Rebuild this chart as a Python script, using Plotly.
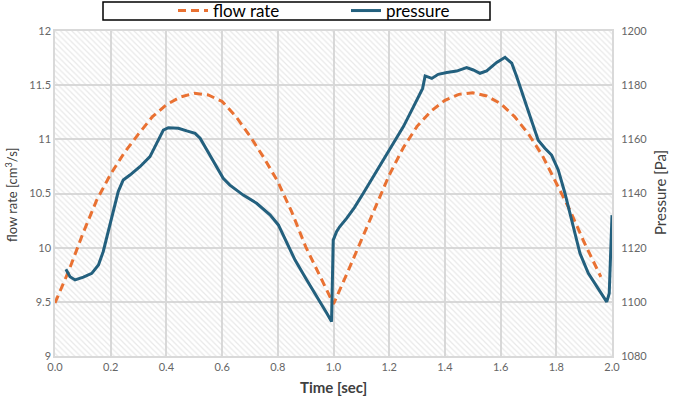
import plotly.graph_objects as go

# ---- data ----
flow_time = [0.00, 0.05, 0.10, 0.15, 0.20, 0.25, 0.30, 0.35, 0.40, 0.45,
             0.50, 0.55, 0.60, 0.65, 0.70, 0.75, 0.80, 0.85, 0.90, 0.95,
             1.00, 1.05, 1.10, 1.15, 1.20, 1.25, 1.30, 1.35, 1.40, 1.45,
             1.50, 1.55, 1.60, 1.65, 1.70, 1.75, 1.80, 1.85, 1.90, 1.96]
flow_rate = [9.49, 9.79, 10.13, 10.44, 10.68, 10.88, 11.05, 11.21, 11.32, 11.39,
             11.425, 11.41, 11.35, 11.21, 11.03, 10.83, 10.61, 10.33, 10.01, 9.74,
             9.48, 9.77, 10.07, 10.36, 10.67, 10.92, 11.12, 11.26, 11.36, 11.415,
             11.43, 11.40, 11.33, 11.21, 11.05, 10.85, 10.60, 10.34, 10.05, 9.73]

pres_time = [0.039, 0.054, 0.072, 0.102, 0.132, 0.156, 0.173, 0.191, 0.209, 0.227,
             0.245, 0.269, 0.305, 0.341, 0.365, 0.389, 0.407, 0.443, 0.473, 0.503,
             0.521, 0.545, 0.575, 0.604, 0.628, 0.676, 0.724, 0.772, 0.802, 0.832,
             0.862, 0.904, 0.945, 0.976, 0.993, 0.999, 1.011, 1.022, 1.047, 1.075,
             1.107, 1.143, 1.179, 1.215, 1.251, 1.281, 1.310, 1.320, 1.329, 1.353,
             1.376, 1.407, 1.442, 1.478, 1.502, 1.526, 1.550, 1.586, 1.616, 1.640,
             1.658, 1.681, 1.706, 1.735, 1.759, 1.783, 1.807, 1.831, 1.855, 1.885,
             1.915, 1.945, 1.981, 1.990, 2.000]
pressure = [1112.0, 1109.3, 1108.1, 1109.1, 1110.5, 1113.6, 1118.5, 1125.9, 1133.9, 1140.7,
            1145.0, 1146.8, 1149.9, 1153.6, 1158.5, 1163.4, 1164.3, 1164.1, 1163.1, 1162.2,
            1160.4, 1156.1, 1150.5, 1145.6, 1143.1, 1139.4, 1136.4, 1132.1, 1128.4, 1121.6,
            1115.4, 1108.1, 1101.3, 1095.8, 1092.7, 1122.8, 1125.9, 1127.7, 1130.8, 1134.8,
            1140.1, 1146.2, 1152.4, 1158.5, 1164.7, 1170.8, 1177.0, 1178.8, 1183.4, 1182.5,
            1184.0, 1184.7, 1185.2, 1186.5, 1185.6, 1184.4, 1185.3, 1188.4, 1190.3, 1188.1,
            1183.1, 1175.7, 1168.4, 1159.7, 1156.7, 1154.2, 1148.7, 1140.1, 1130.2, 1117.9,
            1110.5, 1105.6, 1100.0, 1103.1, 1132.0]

x_ticks = [0.0, 0.2, 0.4, 0.6, 0.8, 1.0, 1.2, 1.4, 1.6, 1.8, 2.0]
flow_ticks = [9, 9.5, 10, 10.5, 11, 11.5, 12]
pres_ticks = [1080, 1100, 1120, 1140, 1160, 1180, 1200]

ORANGE = "#E97132"
BLUE = "#23607E"
GRID = "#d9d9d9"
TICK = "#666666"
TITLE = "#404040"
FONT = "Lato"

W, H = 675, 400
L, R, T, B = 55, 63, 31, 44
PW, PH = W - L - R, H - T - B

def px_x(p):
    return (p - L) / PW

def px_y(p):
    return 1 - (p - T) / PH

fig = go.Figure()

# hatched plot-area background
fig.add_trace(go.Scatter(
    x=[x_ticks[0], x_ticks[-1], x_ticks[-1], x_ticks[0], x_ticks[0]],
    y=[flow_ticks[0], flow_ticks[0], flow_ticks[-1], flow_ticks[-1], flow_ticks[0]],
    mode="lines", line=dict(width=0), fill="toself",
    fillcolor="rgba(0,0,0,0)",
    fillpattern=dict(shape="\\", fgcolor="#d2d2d2", bgcolor="rgba(0,0,0,0)",
                     size=4, solidity=0.3),
    showlegend=False, hoverinfo="skip"))

fig.add_trace(go.Scatter(
    x=flow_time, y=flow_rate, name="flow rate", mode="lines",
    line=dict(color=ORANGE, width=3, dash="8px,5px"),
    legend="legend"))

fig.add_trace(go.Scatter(
    x=pres_time, y=pressure, name="pressure", mode="lines", yaxis="y2",
    line=dict(color=BLUE, width=3),
    legend="legend2"))

# legend frame
fig.add_shape(type="rect", xref="paper", yref="paper",
              x0=px_x(103), x1=px_x(490), y0=px_y(20), y1=px_y(2),
              line=dict(color="black", width=1.5), fillcolor="white", layer="below")

# axis titles as annotations
fig.add_annotation(xref="paper", yref="paper", x=px_x(333), y=px_y(387),
                   text="<b>Time [sec]</b>", showarrow=False,
                   font=dict(size=15, color=TITLE, family=FONT),
                   xanchor="center", yanchor="middle")
fig.add_annotation(xref="paper", yref="paper", x=px_x(11), y=px_y(195),
                   text="flow rate [cm<sup>3</sup>/s]", showarrow=False, textangle=-90,
                   font=dict(size=13, color=TITLE, family=FONT),
                   xanchor="center", yanchor="middle")
fig.add_annotation(xref="paper", yref="paper", x=px_x(660), y=px_y(193),
                   text="Pressure [Pa]", showarrow=False, textangle=-90,
                   font=dict(size=15, color=TITLE, family=FONT),
                   xanchor="center", yanchor="middle")

legend_font = dict(size=17, color="black", family=FONT)
fig.update_layout(
    width=W, height=H,
    margin=dict(l=L, r=R, t=T, b=B, autoexpand=False),
    paper_bgcolor="white", plot_bgcolor="white",
    font=dict(family=FONT, color=TICK, size=11),
    legend=dict(orientation="h", xref="container", yref="container",
                x=173 / W, xanchor="left", y=1 - 11 / H, yanchor="middle",
                bgcolor="rgba(0,0,0,0)", font=legend_font),
    legend2=dict(orientation="h", xref="container", yref="container",
                 x=346 / W, xanchor="left", y=1 - 11 / H, yanchor="middle",
                 bgcolor="rgba(0,0,0,0)", font=legend_font),
    xaxis=dict(range=[0, 2], tickvals=x_ticks, tickformat=".1f",
               showgrid=True, gridcolor=GRID, gridwidth=1.5,
               showline=True, linecolor=GRID, linewidth=1.5, mirror=True,
               zeroline=False, ticks="", automargin=False,
               tickfont=dict(size=11, color=TICK)),
    yaxis=dict(range=[9, 12], tickvals=flow_ticks,
               showgrid=True, gridcolor=GRID, gridwidth=1.5,
               showline=True, linecolor=GRID, linewidth=1.5, mirror=True,
               zeroline=False, ticks="", automargin=False,
               tickfont=dict(size=11, color=TICK)),
    yaxis2=dict(range=[1080, 1200], tickvals=pres_ticks, overlaying="y", side="right",
                showgrid=False, zeroline=False, showline=False, automargin=False,
                ticks="outside", ticklen=6, tickcolor="rgba(0,0,0,0)",
                tickfont=dict(size=11, color=TICK)),
)

fig.write_html("out.html", config={"displayModeBar": False},
               post_script="document.body.style.margin='0';document.body.style.padding='0';")
